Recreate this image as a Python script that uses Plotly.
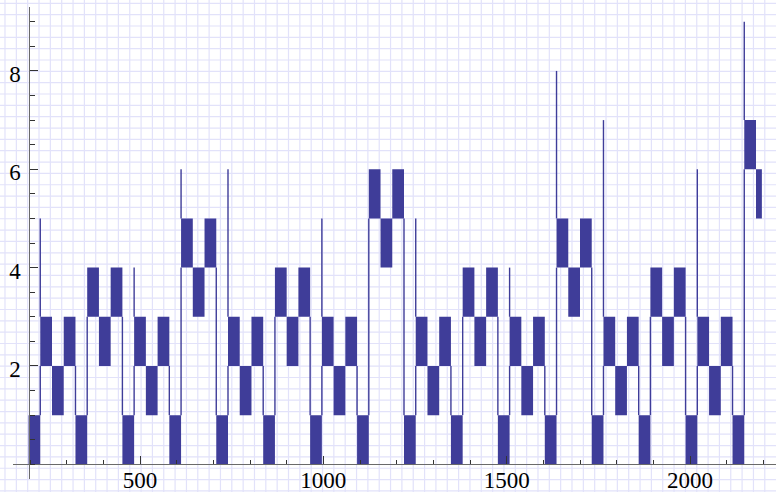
import plotly.graph_objects as go

# ---------------- data ----------------
x_start = 196          # first index of the sequence
x_end = 2196           # last index of the sequence
block_width = 32       # length of each oscillating run
block_span = 1         # each run oscillates between low and low+1

# lower value of each oscillating run, left to right
block_low = [0, 2, 1, 2, 0, 3, 2, 3,
             0, 2, 1, 2, 0, 4, 3, 4,
             0, 2, 1, 2, 0, 3, 2, 3,
             0, 2, 1, 2, 0, 5, 4, 5,
             0, 2, 1, 2, 0, 3, 2, 3,
             0, 2, 1, 2, 0, 4, 3, 4,
             0, 2, 1, 2, 0, 3, 2, 3,
             0, 2, 1, 2, 0, 6, 5]

# isolated spikes at the start of some runs (run index, value)
spike_block = [1, 9, 13, 17, 25, 33, 41, 45, 49, 57, 61]
spike_value = [5, 4, 6, 6, 5, 5, 4, 8, 7, 6, 9]

x_tick_vals = [500, 1000, 1500, 2000]
y_tick_vals = [2, 4, 6, 8]

# ---------------- geometry ----------------
W, H = 776, 492
ML, MR, MT, MB = 13, 0, 7, 13
x_range = [153.64, 2234.55]
y_range = [-0.299, 9.30]
color = "#3f3d99"

starts = [x_start + i * block_width for i in range(len(block_low))]
ends = [min(s + block_width, x_end) for s in starts]

# filled runs drawn as closed rectangles (one scatter trace, None-separated)
fx, fy = [], []
for s, e, lo in zip(starts, ends, block_low):
    fx += [s, e, e, s, s, None]
    fy += [lo, lo, lo + block_span, lo + block_span, lo, None]

# thin connecting lines at run boundaries (only across the gaps) and spikes
spikes = dict(zip(spike_block, spike_value))
lx, ly = [], []
for i in range(1, len(block_low)):
    s = starts[i]
    plo, phi = block_low[i - 1], block_low[i - 1] + block_span
    clo, chi = block_low[i], block_low[i] + block_span
    if clo > phi:
        lx += [s, s, None]; ly += [phi, clo, None]
    elif plo > chi:
        lx += [s, s, None]; ly += [chi, plo, None]
    if i in spikes:
        lx += [s, s, None]; ly += [chi, spikes[i], None]

fig = go.Figure()
fig.add_trace(go.Scatter(x=fx, y=fy, mode="lines", fill="toself",
                         fillcolor=color, line=dict(width=0, color=color),
                         hoverinfo="skip"))
fig.add_trace(go.Scatter(x=lx, y=ly, mode="lines",
                         line=dict(color=color, width=1.4), hoverinfo="skip"))

# graph-paper background (square grid over whole canvas)
pw, ph = W - ML - MR, H - MT - MB
grid = 11.34
grid_color = "rgb(226,226,250)"
shapes = []
px = 5.0
while px < W:
    xp = (px - ML) / pw
    shapes.append(dict(type="line", xref="paper", yref="paper", x0=xp, x1=xp,
                       y0=-MB / ph, y1=1 + MT / ph, layer="below",
                       line=dict(color=grid_color, width=1.2)))
    px += grid
py = 3.3
while py < H:
    yp = (H - MB - py) / ph
    shapes.append(dict(type="line", xref="paper", yref="paper", y0=yp, y1=yp,
                       x0=-ML / pw, x1=1 + MR / pw, layer="below",
                       line=dict(color=grid_color, width=1.2)))
    py += grid

xaxis_pos = (0 - y_range[0]) / (y_range[1] - y_range[0])
yaxis_pos = (x_start - x_range[0]) / (x_range[1] - x_range[0])

tick_font = dict(family="Liberation Serif, Times New Roman, serif", size=23, color="black")
axis_col = "#6a6a6a"
tick_col = "#333333"

fig.update_layout(
    width=W, height=H,
    margin=dict(l=ML, r=MR, t=MT, b=MB, autoexpand=False),
    paper_bgcolor="white", plot_bgcolor="rgba(0,0,0,0)",
    showlegend=False, shapes=shapes,
    xaxis=dict(range=x_range, anchor="free", position=xaxis_pos,
               showline=True, linecolor=axis_col, linewidth=1.3,
               showgrid=False, zeroline=False,
               ticks="inside", ticklen=8, tickwidth=1, tickcolor=tick_col,
               tickvals=x_tick_vals, ticktext=[str(v) for v in x_tick_vals],
               tickfont=tick_font, ticklabelstandoff=-5,
               minor=dict(ticks="inside", ticklen=4.5, tickwidth=1,
                          tickcolor=tick_col, dtick=100, tick0=0, showgrid=False)),
    yaxis=dict(range=y_range, anchor="free", position=yaxis_pos,
               showline=True, linecolor=axis_col, linewidth=1.3,
               showgrid=False, zeroline=False,
               ticks="inside", ticklen=8, tickwidth=1, tickcolor=tick_col,
               tickvals=y_tick_vals, ticktext=[str(v) for v in y_tick_vals],
               tickfont=tick_font, ticklabelstandoff=3, ticklabelshift=3,
               minor=dict(ticks="inside", ticklen=5.5, tickwidth=1,
                          tickcolor=tick_col, dtick=0.5, tick0=0, showgrid=False)),
)

fig.write_html("out.html", config={"displayModeBar": False},
               post_script="document.body.style.margin='0px';"
                           "document.body.style.padding='0px';")
